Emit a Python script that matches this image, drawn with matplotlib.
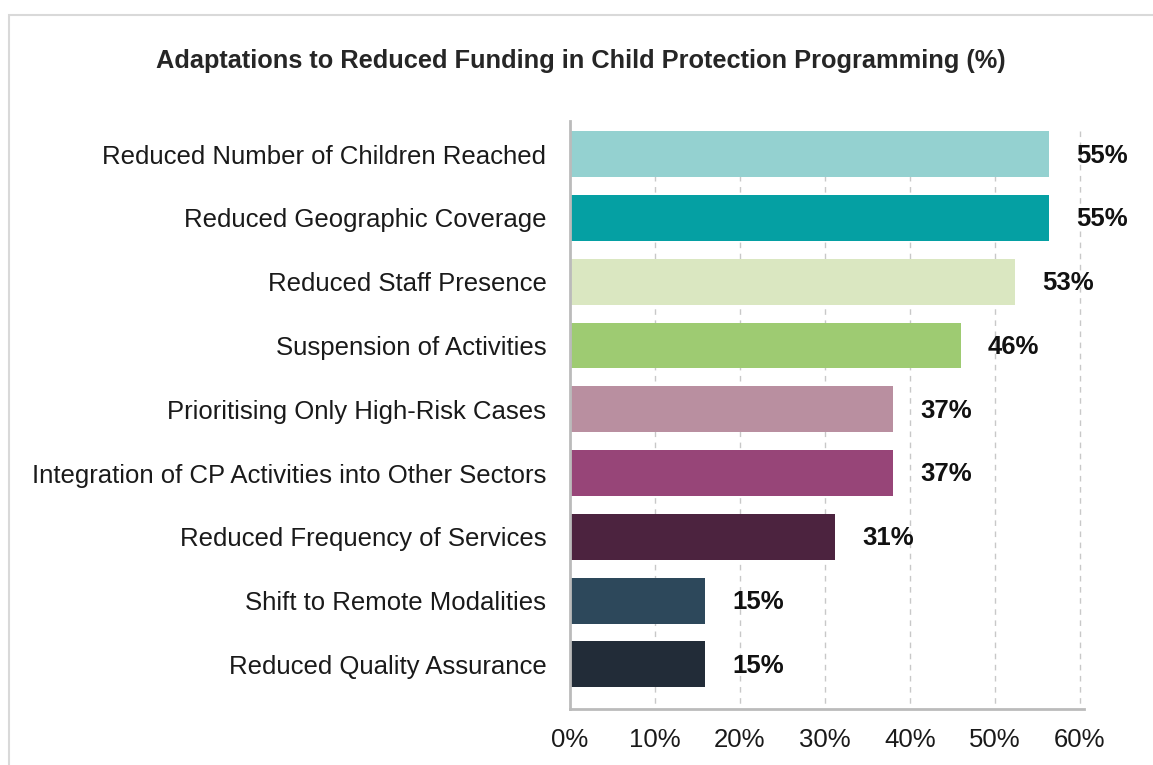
import matplotlib.pyplot as plt
from matplotlib.patches import Rectangle

plt.rcParams['font.family'] = ['Liberation Sans', 'DejaVu Sans']

categories = ['Reduced Number of Children Reached',
              'Reduced Geographic Coverage',
              'Reduced Staff Presence',
              'Suspension of Activities',
              'Prioritising Only High-Risk Cases',
              'Integration of CP Activities into Other Sectors',
              'Reduced Frequency of Services',
              'Shift to Remote Modalities',
              'Reduced Quality Assurance']
# bar lengths as drawn in the picture
values = [56.4, 56.4, 52.4, 46.0, 38.0, 38.0, 31.2, 15.9, 15.9]
# labels as printed next to the bars
labels = ['55%', '55%', '53%', '46%', '37%', '37%', '31%', '15%', '15%']
colors = ['#94D1D0', '#05A0A3', '#DAE7C1', '#9ECB72', '#B98FA0',
          '#974578', '#4C233F', '#2D485B', '#222C38']
xticks = [0, 10, 20, 30, 40, 50, 60]

fig = plt.figure(figsize=(11.53, 7.65), dpi=100)
fig.patches.append(Rectangle((9/1153, -0.1), 1.2, 1 - 15/765 + 0.1,
                             transform=fig.transFigure, fill=False,
                             edgecolor='#D9D9D9', lw=1.5))

ax = fig.add_axes([570/1153, 1 - 709/765, 514/1153, (709 - 121)/765])
ypos = list(range(len(categories)))
bar_h = 0.72
ax.vlines(xticks[1:], ymin=-bar_h/2, ymax=8.7, colors='#C8C8C8',
          linestyles=(0, (4, 4)), lw=1, zorder=0)
ax.barh(ypos, values, height=bar_h, color=colors, zorder=2)

for y, v, t in zip(ypos, values, labels):
    ax.annotate(t, (v, y), xytext=(19.5, -1), textcoords='offset points',
                ha='left', va='center', fontsize=18.5, fontweight='bold',
                color='#111111')

ax.set_ylim(8.7, -0.52)
ax.set_xlim(0, 60.5)
ax.set_yticks(ypos)
ax.set_yticklabels(categories, fontsize=18.5, color='#1a1a1a')
ax.set_xticks(xticks)
ax.set_xticklabels([f'{t}%' for t in xticks], fontsize=18.5, color='#1a1a1a')
ax.tick_params(axis='y', length=0, pad=17)
ax.tick_params(axis='x', length=0, pad=14)
for s in ['top', 'right']:
    ax.spines[s].set_visible(False)
for s in ['left', 'bottom']:
    ax.spines[s].set_color('#BBBBBB')
    ax.spines[s].set_linewidth(2)

fig.text(581/1153, 1 - 61/765,
         'Adaptations to Reduced Funding in Child Protection Programming (%)',
         ha='center', va='center', fontsize=18.3, fontweight='bold',
         color='#262626')

fig.savefig('out.png', dpi=100)
